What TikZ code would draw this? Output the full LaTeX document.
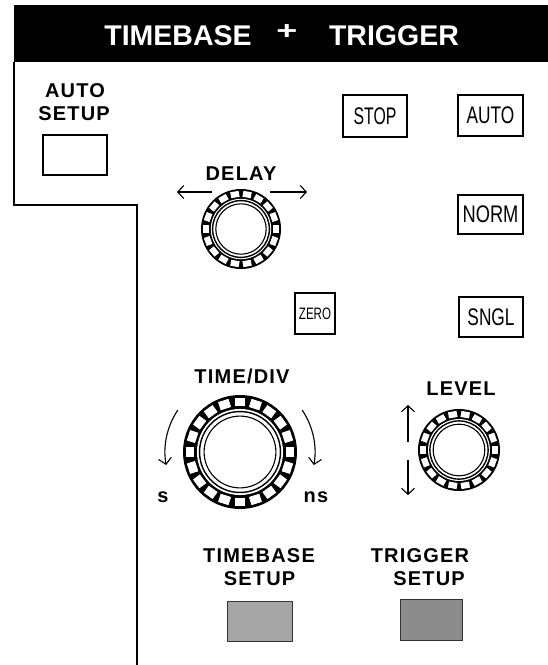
\documentclass[tikz,border=0pt]{standalone}
\usepackage{fontspec}
\usepackage{graphicx}
\setmainfont{Liberation Sans}
\newfontfamily\labfont[LetterSpace=6]{Liberation Sans}
\newfontfamily\btnfont{Liberation Sans}
\usetikzlibrary{arrows.meta}
\newcommand\panelknob[4]{%
  \fill[black] (#1,#2) circle (#3);
  \pgfmathsetmacro\kstep{360/#4}
  \foreach \k in {1,...,#4} {
    \fill[white, rotate around={\k*\kstep:(#1,#2)}]
      ({#1+0.80*#3},{#2-1.9*#3/#4}) rectangle ({#1+0.95*#3},{#2+1.9*#3/#4});
  }
  \fill[white] (#1,#2) circle ({0.755*#3});
  \draw[line width=1.4] (#1,#2) circle ({0.71*#3});
  \draw[line width=1.1] (#1,#2) circle ({0.63*#3});
}
\tikzset{
  lab/.style={font=\labfont\bfseries\fontsize{20}{22}\selectfont, inner sep=0pt, anchor=base},
  ttl/.style={font=\bfseries\fontsize{28.5}{30}\selectfont, text=white, inner sep=0pt, anchor=base},
  btn/.style={draw, line width=1.5, inner sep=0pt, font=\btnfont\fontsize{24}{24}\selectfont},
  graybtn/.style={draw=black!80, line width=0.8, fill=black!35},
  arr/.style={line width=1.1, -{Straight Barb[length=6pt,width=13pt,line width=1.1]}},
  frame/.style={line width=2}
}
\begin{document}
\begin{tikzpicture}[x=1pt,y=1pt]
\useasboundingbox (0,0) rectangle (548,-665);
% title bar
\fill[black] (14,-5) rectangle (548,-62);
\node[ttl] (ttl1) at (178,-45) {TIMEBASE};
\node[ttl] (ttl2) at (394,-45) {TRIGGER};
\node[inner sep=0pt, text=white, font=\bfseries\fontsize{30}{30}\selectfont] (plus) at (287,-32) {\scalebox{1.2}[0.85]{+}};
% frame
\draw[frame] (14,-62) -- (14,-205) -- (137,-205) -- (137,-665);
% auto setup
\node[lab] (as1) at (75,-97) {AUTO};
\node[lab] (as2) at (74,-120) {SETUP};
\node[draw, line width=1.5, minimum width=64, minimum height=40, inner sep=0pt] (asbtn) at (75,-155) {};
% buttons
\node[btn, minimum width=64, minimum height=42] (stop) at (375,-116) {\scalebox{0.66}[1]{STOP}};
\node[btn, minimum width=65, minimum height=41] (auto) at (490.5,-115.5) {\scalebox{0.72}[1]{AUTO}};
\node[btn, minimum width=65, minimum height=39] (norm) at (490.5,-214.5) {\scalebox{0.76}[1]{NORM}};
\node[btn, minimum width=64, minimum height=40] (sngl) at (491,-317) {\scalebox{0.72}[1]{SNGL}};
\node[btn, minimum width=40, minimum height=41, font=\btnfont\fontsize{16.5}{16}\selectfont] (zero) at (315,-313.5) {\scalebox{0.7}[1]{ZERO}};
% delay
\node[lab] (delay) at (241,-180) {DELAY};
\coordinate (dk) at (241,-229);
\panelknob{241}{-229}{40}{18}
\coordinate (dl1) at (212,-192); \coordinate (dl2) at (177,-192);
\coordinate (dr1) at (270,-192); \coordinate (dr2) at (307,-192);
\draw[arr] (dl1) -- (dl2);
\draw[arr] (dr1) -- (dr2);
% time/div
\node[lab] (tdiv) at (242,-383) {TIME/DIV};
\coordinate (tk) at (240,-452);
\panelknob{240}{-452}{57}{20}
\draw[arr] ([shift={(146:75)}]tk) arc[start angle=146, end angle=190, radius=75];
\draw[arr] ([shift={(34:75)}]tk) arc[start angle=34, end angle=-10, radius=75];
\node[lab] (s) at (163,-502) {s};
\node[lab] (ns) at (316,-502) {ns};
% level
\node[lab] (level) at (461,-395) {LEVEL};
\coordinate (lk) at (459,-450);
\panelknob{459}{-450}{41}{18}
\coordinate (lu1) at (408,-442); \coordinate (lu2) at (408,-405);
\coordinate (ld1) at (408,-460); \coordinate (ld2) at (408,-495);
\draw[arr] (lu1) -- (lu2);
\draw[arr] (ld1) -- (ld2);
% setup buttons
\node[lab] (tbs1) at (259,-562) {TIMEBASE};
\node[lab] (tbs2) at (259.5,-585) {SETUP};
\node[graybtn, minimum width=65, minimum height=40, inner sep=0pt] (tbbtn) at (259.5,-621) {};
\node[lab] (trs1) at (420,-562) {TRIGGER};
\node[lab] (trs2) at (429,-585) {SETUP};
\node[graybtn, minimum width=62, minimum height=41, inner sep=0pt, fill=black!45] (trbtn) at (431,-619.5) {};
\end{tikzpicture}
\end{document}
